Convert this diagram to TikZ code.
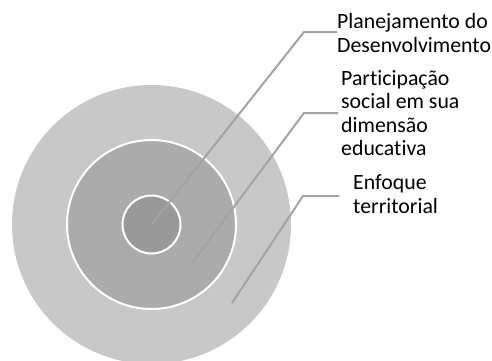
\documentclass[tikz,border=0pt]{standalone}
\usepackage{fontspec}
\setmainfont[Ligatures={NoCommon}]{Carlito}
\definecolor{ringA}{HTML}{C8C8C8}
\definecolor{ringB}{HTML}{ABABAB}
\definecolor{ringC}{HTML}{999999}
\definecolor{leader}{HTML}{A3A3A3}
\begin{document}
\begin{tikzpicture}[x=1pt,y=-1pt,
  disc/.style={circle,inner sep=0pt,minimum size=#1},
  lbl/.style={anchor=base west,inner sep=0pt,align=left,font=\fontsize{21.8}{23.5}\selectfont},
  lead/.style={draw=leader,line width=2pt}]
\useasboundingbox (0,0) rectangle (492,360);
\begin{scope}
\clip (0,0) rectangle (492,360);
\node[disc=279pt,fill=ringA] (outer) at (151.5,224.5) {};
\node[disc=169pt,fill=ringB,draw=white,line width=2pt] (middle) at (151.5,224.5) {};
\node[disc=58pt,fill=ringC,draw=white,line width=2pt] (inner) at (151.5,224.5) {};
\end{scope}
\node[lbl] (t1) at (337,52) {Planejamento do\\Desenvolvimento};
\node[lbl] (t2) at (341,155.5) {Participação\\social em sua\\dimensão\\educativa};
\node[lbl] (t3) at (353,213) {Enfoque\\territorial};
\coordinate (s1) at (152,224);
\coordinate (k1) at (304,32);
\coordinate (e1) at (337,32);
\coordinate (s2) at (192,263);
\coordinate (k2) at (304,113);
\coordinate (e2) at (338,113);
\coordinate (s3) at (232,303);
\coordinate (k3) at (303,196);
\coordinate (e3) at (339,196);
\draw[lead] (s1) -- (k1) -- (e1);
\draw[lead] (s2) -- (k2) -- (e2);
\draw[lead] (s3) -- (k3) -- (e3);
\end{tikzpicture}
\end{document}
